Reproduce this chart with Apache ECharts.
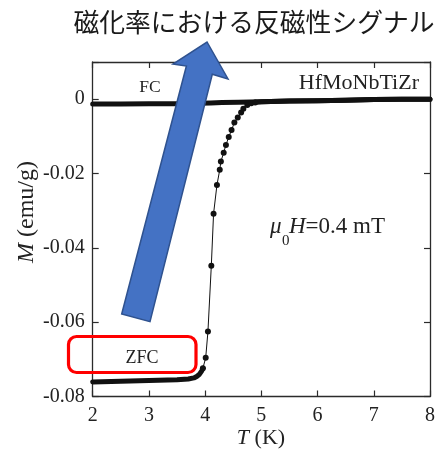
<!DOCTYPE html>
<html>
<head>
<meta charset="utf-8">
<script src="https://cdn.jsdelivr.net/npm/echarts@6/dist/echarts.min.js"></script>
<style>
  html, body { margin: 0; padding: 0; background: #fff; }
  #chart { width: 440px; height: 457px; }
</style>
</head>
<body>
<div id="chart"></div>
<script>
// Magnetisation M (emu/g) versus temperature T (K), HfMoNbTiZr, field-cooled and zero-field-cooled.

// FC branch: densely sampled, drawn as a thick trace
const fcT = [2.0, 2.5, 3.0, 3.5, 3.9, 4.1, 4.3, 4.6, 5.0, 5.5, 6.0, 6.5, 7.0, 7.5, 8.0];
const fcM = [-0.0013, -0.0013, -0.0012, -0.0012, -0.0011, -0.0010, -0.0009, -0.0008, -0.0007, -0.0005, -0.0004, -0.0003, -0.0001, 0.0000, 0.0000];

// ZFC branch, low-temperature plateau (dense)
const zfcLowT = [2.0, 2.5, 3.0, 3.5, 3.7, 3.8, 3.85, 3.9, 3.94, 3.96];
const zfcLowM = [-0.0761, -0.0759, -0.0757, -0.0755, -0.0753, -0.0750, -0.0746, -0.0740, -0.0731, -0.0724];

// ZFC branch across the superconducting transition (individual points)
const zfcRiseT = [3.96, 4.01, 4.05, 4.11, 4.15, 4.21, 4.26, 4.28, 4.33, 4.37, 4.42, 4.47, 4.52, 4.58, 4.64, 4.68, 4.75, 4.82, 4.89];
const zfcRiseM = [-0.0724, -0.0696, -0.0625, -0.0448, -0.0308, -0.0231, -0.0190, -0.0168, -0.0144, -0.0123, -0.0102, -0.0083, -0.0063, -0.0049, -0.0036, -0.0026, -0.0016, -0.0011, -0.0009];

// ZFC branch above Tc (dense, coincides with FC)
const zfcHighT = [4.89, 5.0, 5.5, 6.0, 6.5, 7.0, 7.5, 8.0];
const zfcHighM = [-0.0008, -0.0007, -0.0005, -0.0004, -0.0003, -0.0001, 0.0000, 0.0000];

const xMin = 2, xMax = 8, xStep = 1;
const yMin = -0.08, yMax = 0.01, yStep = 0.02;

const zip = (xs, ys) => xs.map((x, i) => [x, ys[i]]);

const serif = '"Liberation Serif", "Times New Roman", serif';
const axisColor = '#2b2b2b';
const ink = '#111';

const chart = echarts.init(document.getElementById('chart'), null, { renderer: 'canvas' });

const thickLine = (name, data) => ({
  name, type: 'line', data, showSymbol: false, symbol: 'none',
  lineStyle: { color: ink, width: 5, cap: 'round', join: 'round' },
  z: 3, silent: true
});

function yLabel(v) {
  if (v > 0.005) return '';
  if (Math.abs(v) < 1e-9) return '0';
  return v.toFixed(2);
}

const baseX = {
  type: 'value', min: xMin, max: xMax, interval: xStep,
  axisLine: { show: true, onZero: false, lineStyle: { color: axisColor, width: 1.3 } },
  axisTick: { show: true, inside: true, length: 6, lineStyle: { color: axisColor, width: 1.2 } },
  splitLine: { show: false }
};
const baseY = {
  type: 'value', min: yMin, max: yMax, interval: yStep,
  axisLine: { show: true, onZero: false, lineStyle: { color: axisColor, width: 1.3 } },
  axisTick: { show: true, inside: true, length: 6, lineStyle: { color: axisColor, width: 1.2 } },
  splitLine: { show: false }
};

chart.setOption({
  animation: false,
  backgroundColor: '#fff',
  grid: { left: 92.7, right: 10, top: 62, bottom: 60.5, containLabel: false },
  xAxis: [
    Object.assign({}, baseX, {
      position: 'bottom',
      axisLabel: { fontFamily: serif, fontSize: 20, color: '#222', margin: 9 }
    }),
    Object.assign({}, baseX, { position: 'top', axisLabel: { show: false } })
  ],
  yAxis: [
    Object.assign({}, baseY, {
      position: 'left',
      axisLabel: { fontFamily: serif, fontSize: 20, color: '#222', margin: 8, formatter: yLabel }
    }),
    Object.assign({}, baseY, { position: 'right', axisLabel: { show: false } })
  ],
  series: [
    thickLine('FC', zip(fcT, fcM)),
    thickLine('ZFC low', zip(zfcLowT, zfcLowM)),
    thickLine('ZFC high', zip(zfcHighT, zfcHighM)),
    {
      name: 'ZFC', type: 'line', data: zip(zfcRiseT, zfcRiseM),
      symbol: 'circle', symbolSize: 6, showSymbol: true, showAllSymbol: true,
      itemStyle: { color: ink },
      lineStyle: { color: ink, width: 1 },
      z: 4, silent: true
    }
  ],
  graphic: [
    {
      type: 'text', z: 50,
      style: {
        text: '磁化率における反磁性シグナル', x: 254, y: 22,
        align: 'center', verticalAlign: 'middle', textAlign: 'center', textVerticalAlign: 'middle',
        fontSize: 25.8, fontFamily: '"Noto Sans CJK JP", sans-serif', fill: '#1a1a1a'
      }
    },
    {
      type: 'text', z: 50, x: 27, y: 212, rotation: Math.PI / 2,
      style: {
        text: '{i|M} (emu/g)', x: 0, y: 0,
        align: 'center', verticalAlign: 'middle', textAlign: 'center', textVerticalAlign: 'middle',
        fontSize: 24, fontFamily: serif, fill: '#222',
        rich: { i: { fontStyle: 'italic', fontSize: 24, fontFamily: serif, fill: '#222' } }
      }
    },
    {
      type: 'text', z: 50,
      style: {
        text: '{i|T} (K)', x: 261, y: 438,
        align: 'center', verticalAlign: 'middle', textAlign: 'center', textVerticalAlign: 'middle',
        fontSize: 22, fontFamily: serif, fill: '#222',
        rich: { i: { fontStyle: 'italic', fontSize: 22, fontFamily: serif, fill: '#222' } }
      }
    },
    {
      type: 'text', z: 50,
      style: {
        text: 'HfMoNbTiZr', x: 419, y: 83,
        align: 'right', verticalAlign: 'middle', textAlign: 'right', textVerticalAlign: 'middle',
        fontSize: 22, fontFamily: serif, fill: '#222'
      }
    },
    {
      type: 'text', z: 50,
      style: {
        text: 'FC', x: 150, y: 87,
        align: 'center', verticalAlign: 'middle', textAlign: 'center', textVerticalAlign: 'middle',
        fontSize: 17.5, fontFamily: serif, fill: '#222'
      }
    },
    {
      type: 'text', z: 50,
      style: {
        text: 'ZFC', x: 142, y: 358,
        align: 'center', verticalAlign: 'middle', textAlign: 'center', textVerticalAlign: 'middle',
        fontSize: 18, fontFamily: serif, fill: '#222'
      }
    },
    {
      type: 'text', z: 50,
      style: {
        text: 'μ', x: 270, y: 227,
        align: 'left', verticalAlign: 'middle', textAlign: 'left', textVerticalAlign: 'middle',
        fontSize: 23, fontStyle: 'italic', fontFamily: serif, fill: '#222'
      }
    },
    {
      type: 'text', z: 50,
      style: {
        text: '0', x: 282, y: 241,
        align: 'left', verticalAlign: 'middle', textAlign: 'left', textVerticalAlign: 'middle',
        fontSize: 15, fontFamily: serif, fill: '#222'
      }
    },
    {
      type: 'text', z: 50,
      style: {
        text: '{i|H}=0.4 mT', x: 289, y: 227,
        align: 'left', verticalAlign: 'middle', textAlign: 'left', textVerticalAlign: 'middle',
        fontSize: 23, fontFamily: serif, fill: '#222',
        rich: { i: { fontStyle: 'italic', fontSize: 23, fontFamily: serif, fill: '#222' } }
      }
    },
    {
      type: 'rect', z: 60,
      shape: { x: 68.5, y: 336.5, width: 127.5, height: 36, r: 8 },
      style: { fill: null, stroke: '#ff0000', lineWidth: 3.2 }
    },
    {
      type: 'polygon', z: 70,
      shape: {
        points: [
          [121.7, 314], [186.4, 66], [173, 64], [207, 42],
          [228, 79], [212.3, 74.3], [150, 321.7]
        ]
      },
      style: { fill: '#4472c4', stroke: '#2f528f', lineWidth: 1.5, lineJoin: 'miter' }
    }
  ]
});
</script>
</body>
</html>
